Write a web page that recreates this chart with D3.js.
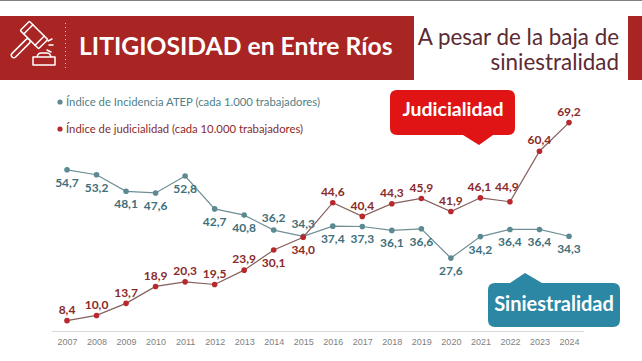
<!DOCTYPE html>
<meta charset="utf-8">
<style>
body { margin: 0; background: #fff; font-family: Lato, sans-serif; }
svg { display: block; }
.year text { fill: #7f7f7f; font-size: 9px; }
.value { font-size: 12px; font-weight: 700; text-anchor: middle; }
</style>
<body>
<script src="https://cdn.jsdelivr.net/npm/d3@7"></script>
<script>
var years = [2007, 2008, 2009, 2010, 2011, 2012, 2013, 2014, 2015, 2016, 2017, 2018, 2019, 2020, 2021, 2022, 2023, 2024];
var siniestralidad = [54.7, 53.2, 48.1, 47.6, 52.8, 42.7, 40.8, 36.2, 34.3, 37.4, 37.3, 36.1, 36.6, 27.6, 34.2, 36.4, 36.4, 34.3];
var judicialidad = [8.4, 10.0, 13.7, 18.9, 20.3, 19.5, 23.9, 30.1, 34.0, 44.6, 40.4, 44.3, 45.9, 41.9, 46.1, 44.9, 60.4, 69.2];

var legendLabels = ["Índice de Incidencia ATEP (cada 1.000 trabajadores)", "Índice de judicialidad (cada 10.000 trabajadores)"];

var width = 642, height = 361;
var teal = "#5b8a93", tealText = "#3f6f7a", red = "#b8282c", redText = "#8a2a2a";

var svg = d3.select("body").append("svg").attr("width", width).attr("height", height);

var x = d3.scalePoint().domain(years).range([67, 569]);
var y = d3.scaleLinear().domain([0, 80]).range([348, 87.4]);

// top rule
svg.append("rect").attr("width", width).attr("height", 1).attr("fill", "#808080");

// header band
svg.append("rect").attr("x", 0).attr("y", 16).attr("width", 414).attr("height", 64).attr("fill", "#a82524");
svg.append("rect").attr("x", 628).attr("y", 16).attr("width", 14).attr("height", 64).attr("fill", "#a82524");
svg.append("line").attr("x1", 65.5).attr("x2", 65.5).attr("y1", 23).attr("y2", 70)
  .attr("stroke", "#e8bdbd").attr("stroke-dasharray", "1 3");

// gavel
var gavel = svg.append("g").attr("fill", "none").attr("stroke", "#fff").attr("stroke-width", 1.5).attr("stroke-linejoin", "round").attr("stroke-linecap", "round");
var head = gavel.append("g").attr("transform", "translate(34,35) rotate(45)");
head.append("rect").attr("x", -2.5).attr("y", 6.5).attr("width", 5).attr("height", 24.5).attr("rx", 2.5);
head.append("rect").attr("x", -13).attr("y", -6.5).attr("width", 26).attr("height", 13).attr("rx", 1).attr("fill", "#a82524");
head.append("path").attr("d", "M-8 -6.5 V6.5 M8 -6.5 V6.5");
gavel.append("path").attr("d", "M48 41 L52 39 M49 45 H53 M47 50 L51 52");
gavel.append("path").attr("d", "M37 57 Q38 53 41 53 H47 Q50 53 51 57 M33 57 H55 V65 H33 Z");

svg.append("text").attr("x", 79).attr("y", 55).attr("fill", "#fff")
  .attr("font-size", 24.7).attr("font-weight", 700).text("LITIGIOSIDAD en Entre Ríos");

svg.selectAll(".sub").data(["A pesar de la baja de", "siniestralidad"]).enter().append("text")
  .attr("class", "sub").attr("x", 619).attr("y", function(d, i) { return 45 + i * 25; })
  .attr("text-anchor", "end").attr("fill", "#5c2a33").attr("font-size", 22.4).text(function(d) { return d; });

// legend
legendLabels.forEach(function(t, i) {
  var ly = 102 + i * 27, col = i ? red : teal;
  svg.append("circle").attr("cx", 60).attr("cy", ly).attr("r", 2.6).attr("fill", col);
  svg.append("text").attr("x", 66).attr("y", ly + 4).attr("font-size", 11.3)
    .attr("fill", i ? redText : "#4f7f88").text(t);
});

// x axis
var axis = d3.axisBottom(x).tickSize(0).tickPadding(7);
var axisG = svg.append("g").attr("class", "year").attr("transform", "translate(0,331.5)").call(axis);
axisG.select(".domain").remove();
svg.append("line").attr("x1", 52).attr("x2", 584).attr("y1", 331.5).attr("y2", 331.5).attr("stroke", "#d9d9d9").attr("stroke-width", 1.2);

var path = d3.line().x(function(d, i) { return x(years[i]); }).y(function(d) { return y(d); });

function series(values, col, textCol, lineCol, labelPlace) {
  svg.append("path").attr("d", path(values)).attr("fill", "none").attr("stroke", lineCol).attr("stroke-width", 1.2);
  svg.selectAll(null).data(values).enter().append("circle")
    .attr("cx", function(d, i) { return x(years[i]); })
    .attr("cy", function(d) { return y(d); })
    .attr("r", 2.8).attr("fill", col);
  svg.selectAll(null).data(values).enter().append("text")
    .attr("class", "value").attr("fill", textCol)
    .attr("x", function(d, i) { return x(years[i]) + labelPlace(i).dx; })
    .attr("y", function(d, i) { return y(d) + labelPlace(i).dy + 4.5; })
    .text(function(d) { return d3.format(".1f")(d).replace(".", ","); });
}

series(siniestralidad, teal, tealText, "#6f8f95", function(i) {
  return { dx: 0, dy: (i === 7 || i === 8) ? -12.5 : 12.5 };
});
series(judicialidad, red, redText, "#85605c", function(i) {
  if (i === 14) return { dx: -1, dy: -11.3 };
  if (i === 15) return { dx: -3, dy: -15 };
  return { dx: 0, dy: (i === 7 || i === 8) ? 12.5 : -11.3 };
});

// callouts
function callout(path, fill, label, cx, cy, size) {
  svg.append("path").attr("d", path).attr("fill", fill);
  svg.append("text").attr("x", cx).attr("y", cy).attr("text-anchor", "middle").attr("fill", "#fff")
    .attr("font-size", size).attr("font-weight", 700).text(label);
}
callout("M397 90 H508 Q515 90 515 97 V128 Q515 135 508 135 H493 L479 145 L463 135 H397 Q390 135 390 128 V97 Q390 90 397 90 Z", "#e01414", "Judicialidad", 453, 116, 19.5);
callout("M495 283 H510 L525 273 L542 283 H613 Q620 283 620 290 V320 Q620 327 613 327 H495 Q488 327 488 320 V290 Q488 283 495 283 Z", "#2b87a3", "Siniestralidad", 554, 311, 20);
</script>
